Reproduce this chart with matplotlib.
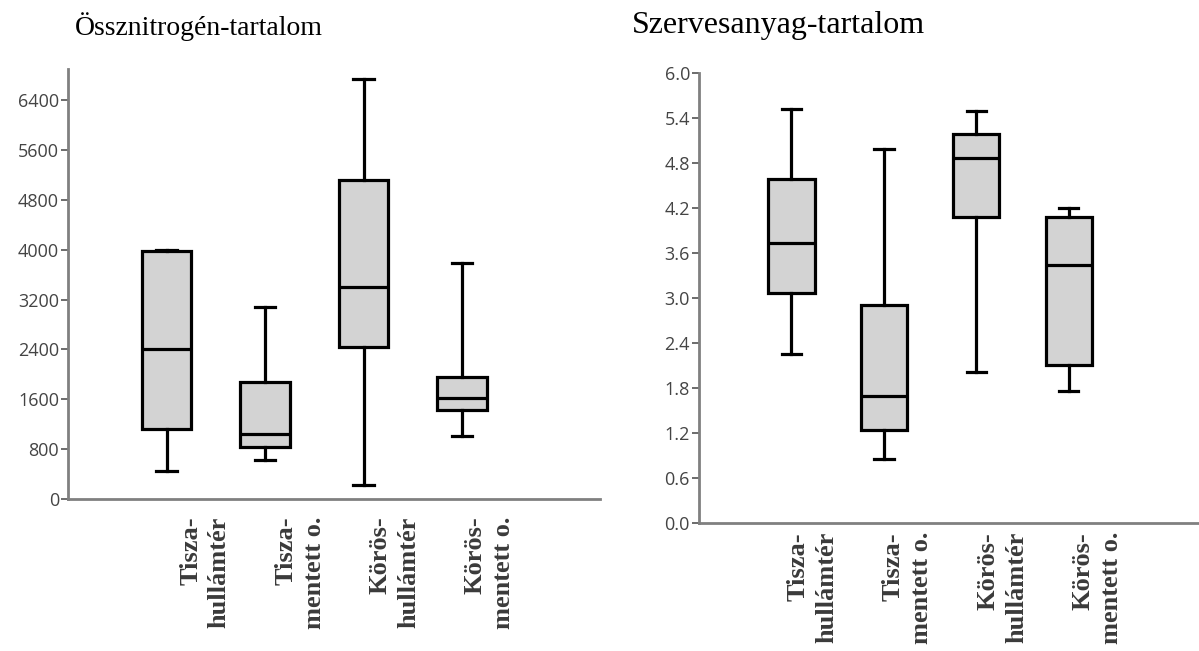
import matplotlib
matplotlib.use('Agg')
import matplotlib.pyplot as plt
from matplotlib.ticker import FormatStrFormatter

# adatok (leolvasva az ábráról)
kategoriak = ['Tisza-\nhullámtér', 'Tisza-\nmentett o.', 'Körös-\nhullámtér', 'Körös-\nmentett o.']

# Össznitrogén-tartalom
n_min = [450, 630, 225, 1010]
n_q1 = [1120, 835, 2440, 1430]
n_med = [2410, 1045, 3400, 1620]
n_q3 = [3980, 1880, 5120, 1960]
n_max = [4000, 3080, 6740, 3790]

# Szervesanyag-tartalom
sz_min = [2.26, 0.86, 2.01, 1.76]
sz_q1 = [3.07, 1.24, 4.08, 2.11]
sz_med = [3.74, 1.69, 4.87, 3.44]
sz_q3 = [4.59, 2.91, 5.19, 4.08]
sz_max = [5.52, 4.99, 5.49, 4.20]

n_ticks = [0, 800, 1600, 2400, 3200, 4000, 4800, 5600, 6400]
sz_ticks = [0.0, 0.6, 1.2, 1.8, 2.4, 3.0, 3.6, 4.2, 4.8, 5.4, 6.0]


def stats(lo, q1, med, q3, hi):
    return [dict(whislo=a, q1=b, med=c, q3=d, whishi=e, fliers=[])
            for a, b, c, d, e in zip(lo, q1, med, q3, hi)]


def rajzol(ax, st, ticks, ylim, lab_x0, lab_step, label_y):
    pos = [1, 2, 3, 4]
    black = dict(color='black', linewidth=2.3)
    ax.bxp(st, positions=pos, widths=0.5, patch_artist=True, showfliers=False,
           boxprops=dict(facecolor='#d3d3d3', edgecolor='black', linewidth=2.3),
           medianprops=black, whiskerprops=black,
           capprops=black, capwidths=0.21)
    ax.set_xlim(0, 5.4)
    ax.set_ylim(*ylim)
    ax.set_yticks(ticks)
    ax.set_xticks([])
    for s in ['top', 'right']:
        ax.spines[s].set_visible(False)
    for s in ['left', 'bottom']:
        ax.spines[s].set_color('#808080')
        ax.spines[s].set_linewidth(2)
    ax.tick_params(axis='y', length=5, width=1.3, color='#606060',
                   labelsize=13, labelcolor='#444444', pad=1.5)
    for lab in ax.get_yticklabels():
        lab.set_family('Open Sans')
    # kategórianevek (függőleges, félkövér)
    for i, k in enumerate(kategoriak):
        ax.text(lab_x0 + i * lab_step, label_y, k, transform=ax.get_xaxis_transform(),
                rotation=90, ha='center', va='top', multialignment='right',
                family='Liberation Serif', fontweight='bold', fontsize=19,
                color='#3a3a3a', linespacing=1.3)


fig = plt.figure(figsize=(11.99, 6.51), dpi=100)

ax1 = fig.add_axes([68 / 1199, 1 - 499 / 651, (600 - 68) / 1199, (499 - 69) / 651])
rajzol(ax1, stats(n_min, n_q1, n_med, n_q3, n_max), n_ticks, (0, 6900), 1.39, 0.963, -0.04)

ax2 = fig.add_axes([699 / 1199, 1 - 523 / 651, (1198 - 699) / 1199, (523 - 73) / 651])
rajzol(ax2, stats(sz_min, sz_q1, sz_med, sz_q3, sz_max), sz_ticks, (0, 6.0), 1.23, 1.027, -0.02)
ax2.yaxis.set_major_formatter(FormatStrFormatter('%.1f'))

fig.text(75 / 1199, 1 - 27 / 651, 'Össznitrogén-tartalom', family='Liberation Serif',
         fontsize=20, va='center', ha='left')
fig.text(632 / 1199, 1 - 25 / 651, 'Szervesanyag-tartalom', family='Liberation Serif',
         fontsize=23, va='center', ha='left')

fig.savefig('out.png', dpi=100)
